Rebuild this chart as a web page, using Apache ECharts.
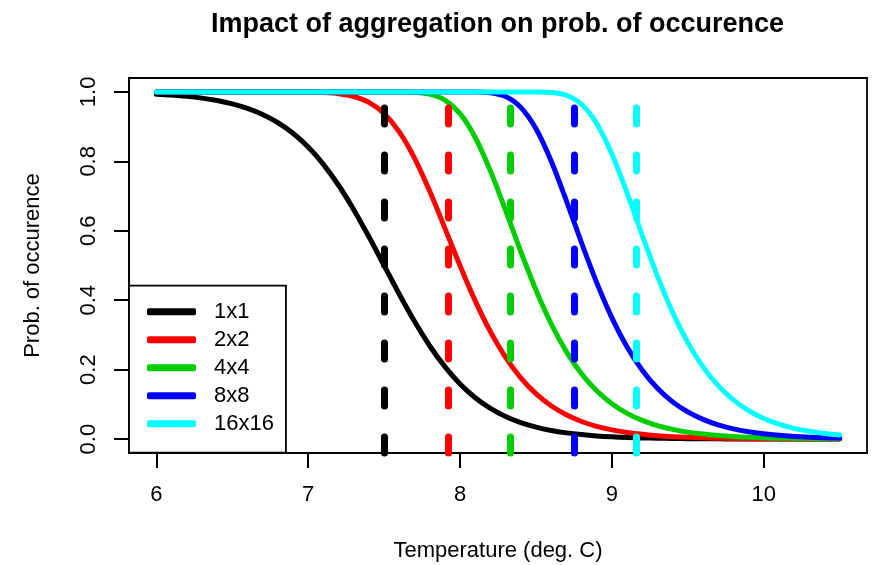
<!DOCTYPE html>
<html><head><meta charset="utf-8">
<script src="https://cdn.jsdelivr.net/npm/echarts@6/dist/echarts.min.js"></script>
<style>html,body{margin:0;padding:0;background:#fff}#c{width:873px;height:565px}</style>
</head><body><div id="c"></div>
<script>
const temps = [6.0,6.1,6.2,6.3,6.4,6.5,6.6,6.7,6.8,6.9,7.0,7.1,7.2,7.3,7.4,7.5,7.6,7.7,7.8,7.9,8.0,8.1,8.2,8.3,8.4,8.5,8.6,8.7,8.8,8.9,9.0,9.1,9.2,9.3,9.4,9.5,9.6,9.7,9.8,9.9,10.0,10.1,10.2,10.3,10.4,10.5];
const seriesNames = ['1x1','2x2','4x4','8x8','16x16'];
const prob1x1 = [0.9933,0.9907,0.9871,0.9820,0.9751,0.9656,0.9526,0.9350,0.9116,0.8808,0.8411,0.7914,0.7311,0.6608,0.5826,0.5000,0.4174,0.3392,0.2689,0.2086,0.1589,0.1192,0.0884,0.0650,0.0474,0.0344,0.0249,0.0180,0.0130,0.0093,0.0067,0.0048,0.0035,0.0025,0.0018,0.0013,0.0009,0.0007,0.0005,0.0003,0.0002,0.0002,0.0001,0.0001,0.0001,0.0000];
const prob2x2 = [1.0,1.0,1.0,1.0,1.0,1.0,1.0,1.0,0.9999,0.9998,0.9994,0.9981,0.9948,0.9867,0.9696,0.9375,0.8848,0.8094,0.7144,0.6078,0.4994,0.3981,0.3094,0.2356,0.1766,0.1308,0.0960,0.0700,0.0508,0.0367,0.0265,0.0191,0.0137,0.0099,0.0071,0.0051,0.0036,0.0026,0.0019,0.0013,0.0010,0.0007,0.0005,0.0004,0.0003,0.0002];
const prob4x4 = [1.0,1.0,1.0,1.0,1.0,1.0,1.0,1.0,1.0,1.0,1.0,1.0,1.0,1.0,1.0,1.0,0.9998,0.9987,0.9934,0.9763,0.9372,0.8687,0.7725,0.6586,0.5403,0.4293,0.3322,0.2520,0.1882,0.1391,0.1019,0.0742,0.0538,0.0388,0.0280,0.0201,0.0145,0.0104,0.0075,0.0053,0.0038,0.0027,0.0020,0.0014,0.0010,0.0007];
const prob8x8 = [1.0,1.0,1.0,1.0,1.0,1.0,1.0,1.0,1.0,1.0,1.0,1.0,1.0,1.0,1.0,1.0,1.0,1.0,1.0,1.0,1.0,0.9997,0.9973,0.9864,0.9554,0.8939,0.8012,0.6870,0.5656,0.4506,0.3493,0.2652,0.1984,0.1466,0.1073,0.0782,0.0567,0.0409,0.0295,0.0212,0.0152,0.0109,0.0078,0.0056,0.0040,0.0029];
const prob16x16 = [1.0,1.0,1.0,1.0,1.0,1.0,1.0,1.0,1.0,1.0,1.0,1.0,1.0,1.0,1.0,1.0,1.0,1.0,1.0,1.0,1.0,1.0,1.0,1.0,1.0,0.9999,0.9984,0.9904,0.9644,0.9089,0.8208,0.7086,0.5870,0.4695,0.3650,0.2779,0.2082,0.1540,0.1129,0.0822,0.0596,0.0431,0.0310,0.0224,0.0161,0.0116];
const thresholds = [7.5, 7.92, 8.33, 8.75, 9.16];
const xTicks = [6, 7, 8, 9, 10];
const yTicks = [0, 0.2, 0.4, 0.6, 0.8, 1.0];

const curves = [prob1x1, prob2x2, prob4x4, prob8x8, prob16x16];
const colors = ['#000000', '#FF0000', '#00CD00', '#0000FF', '#00FFFF'];
const FONT = "'Liberation Sans', Arial, Helvetica, sans-serif";

const chart = echarts.init(document.getElementById('c'), null, {renderer: 'canvas'});
chart.setOption({
  animation: false,
  backgroundColor: '#ffffff',
  title: {
    text: 'Impact of aggregation on prob. of occurence',
    left: 497.5, top: 11, textAlign: 'center', padding: 0,
    textStyle: {fontFamily: FONT, fontSize: 27, fontWeight: 'bold', color: '#000'}
  },
  grid: {
    left: 129, right: 6, top: 78, bottom: 112,
    containLabel: false, outerBoundsMode: 'none',
    show: true, borderColor: '#000', borderWidth: 1.8, backgroundColor: 'transparent'
  },
  legend: {
    orient: 'vertical', left: 129, top: 285.7,
    data: seriesNames,
    icon: 'roundRect', itemWidth: 49, itemHeight: 7, itemGap: 6,
    padding: [15, 12, 18, 18],
    borderColor: '#000', borderWidth: 1.8, borderRadius: 0, backgroundColor: '#fff',
    textStyle: {fontFamily: FONT, fontSize: 22, color: '#000', padding: [0, 0, 0, 13], width: 62},
    selectedMode: false
  },
  xAxis: {
    type: 'value', min: 5.82, max: 10.68, position: 'bottom',
    axisLine: {show: true, onZero: false, lineStyle: {color: '#000', width: 1.8}},
    splitLine: {show: false},
    axisTick: {show: true, inside: false, customValues: xTicks, length: 15, lineStyle: {color: '#000', width: 2}},
    axisLabel: {show: true, customValues: xTicks, margin: 31, fontSize: 22, fontFamily: FONT, color: '#000'},
    name: 'Temperature (deg. C)', nameLocation: 'middle', nameGap: 87,
    nameTextStyle: {fontFamily: FONT, fontSize: 22, color: '#000'}
  },
  yAxis: {
    type: 'value', min: -0.04, max: 1.04, position: 'left',
    axisLine: {show: true, onZero: false, lineStyle: {color: '#000', width: 1.8}},
    splitLine: {show: false},
    axisTick: {show: true, inside: false, customValues: yTicks, length: 15, lineStyle: {color: '#000', width: 2}},
    axisLabel: {show: true, customValues: yTicks, rotate: 90, margin: 29, fontSize: 22, fontFamily: FONT, color: '#000',
      formatter: v => Number(v).toFixed(1)},
    name: 'Prob. of occurence', nameLocation: 'middle', nameGap: 85, nameRotate: 90,
    nameTextStyle: {fontFamily: FONT, fontSize: 22, color: '#000'}
  },
  series: seriesNames.map((n, i) => ({
    name: n, type: 'line',
    data: temps.map((t, j) => [t, curves[i][j]]),
    showSymbol: false, symbol: 'none', smooth: 0.3,
    lineStyle: {color: colors[i], width: 5, cap: 'round', join: 'round'},
    itemStyle: {color: colors[i]},
    silent: true, z: 2,
    markLine: {
      silent: true, symbol: 'none', animation: false,
      label: {show: false},
      lineStyle: {color: colors[i], width: 7, type: [16, 31], cap: 'round'},
      emphasis: {disabled: true},
      data: [{xAxis: thresholds[i]}]
    }
  }))
});
</script>
</body></html>
